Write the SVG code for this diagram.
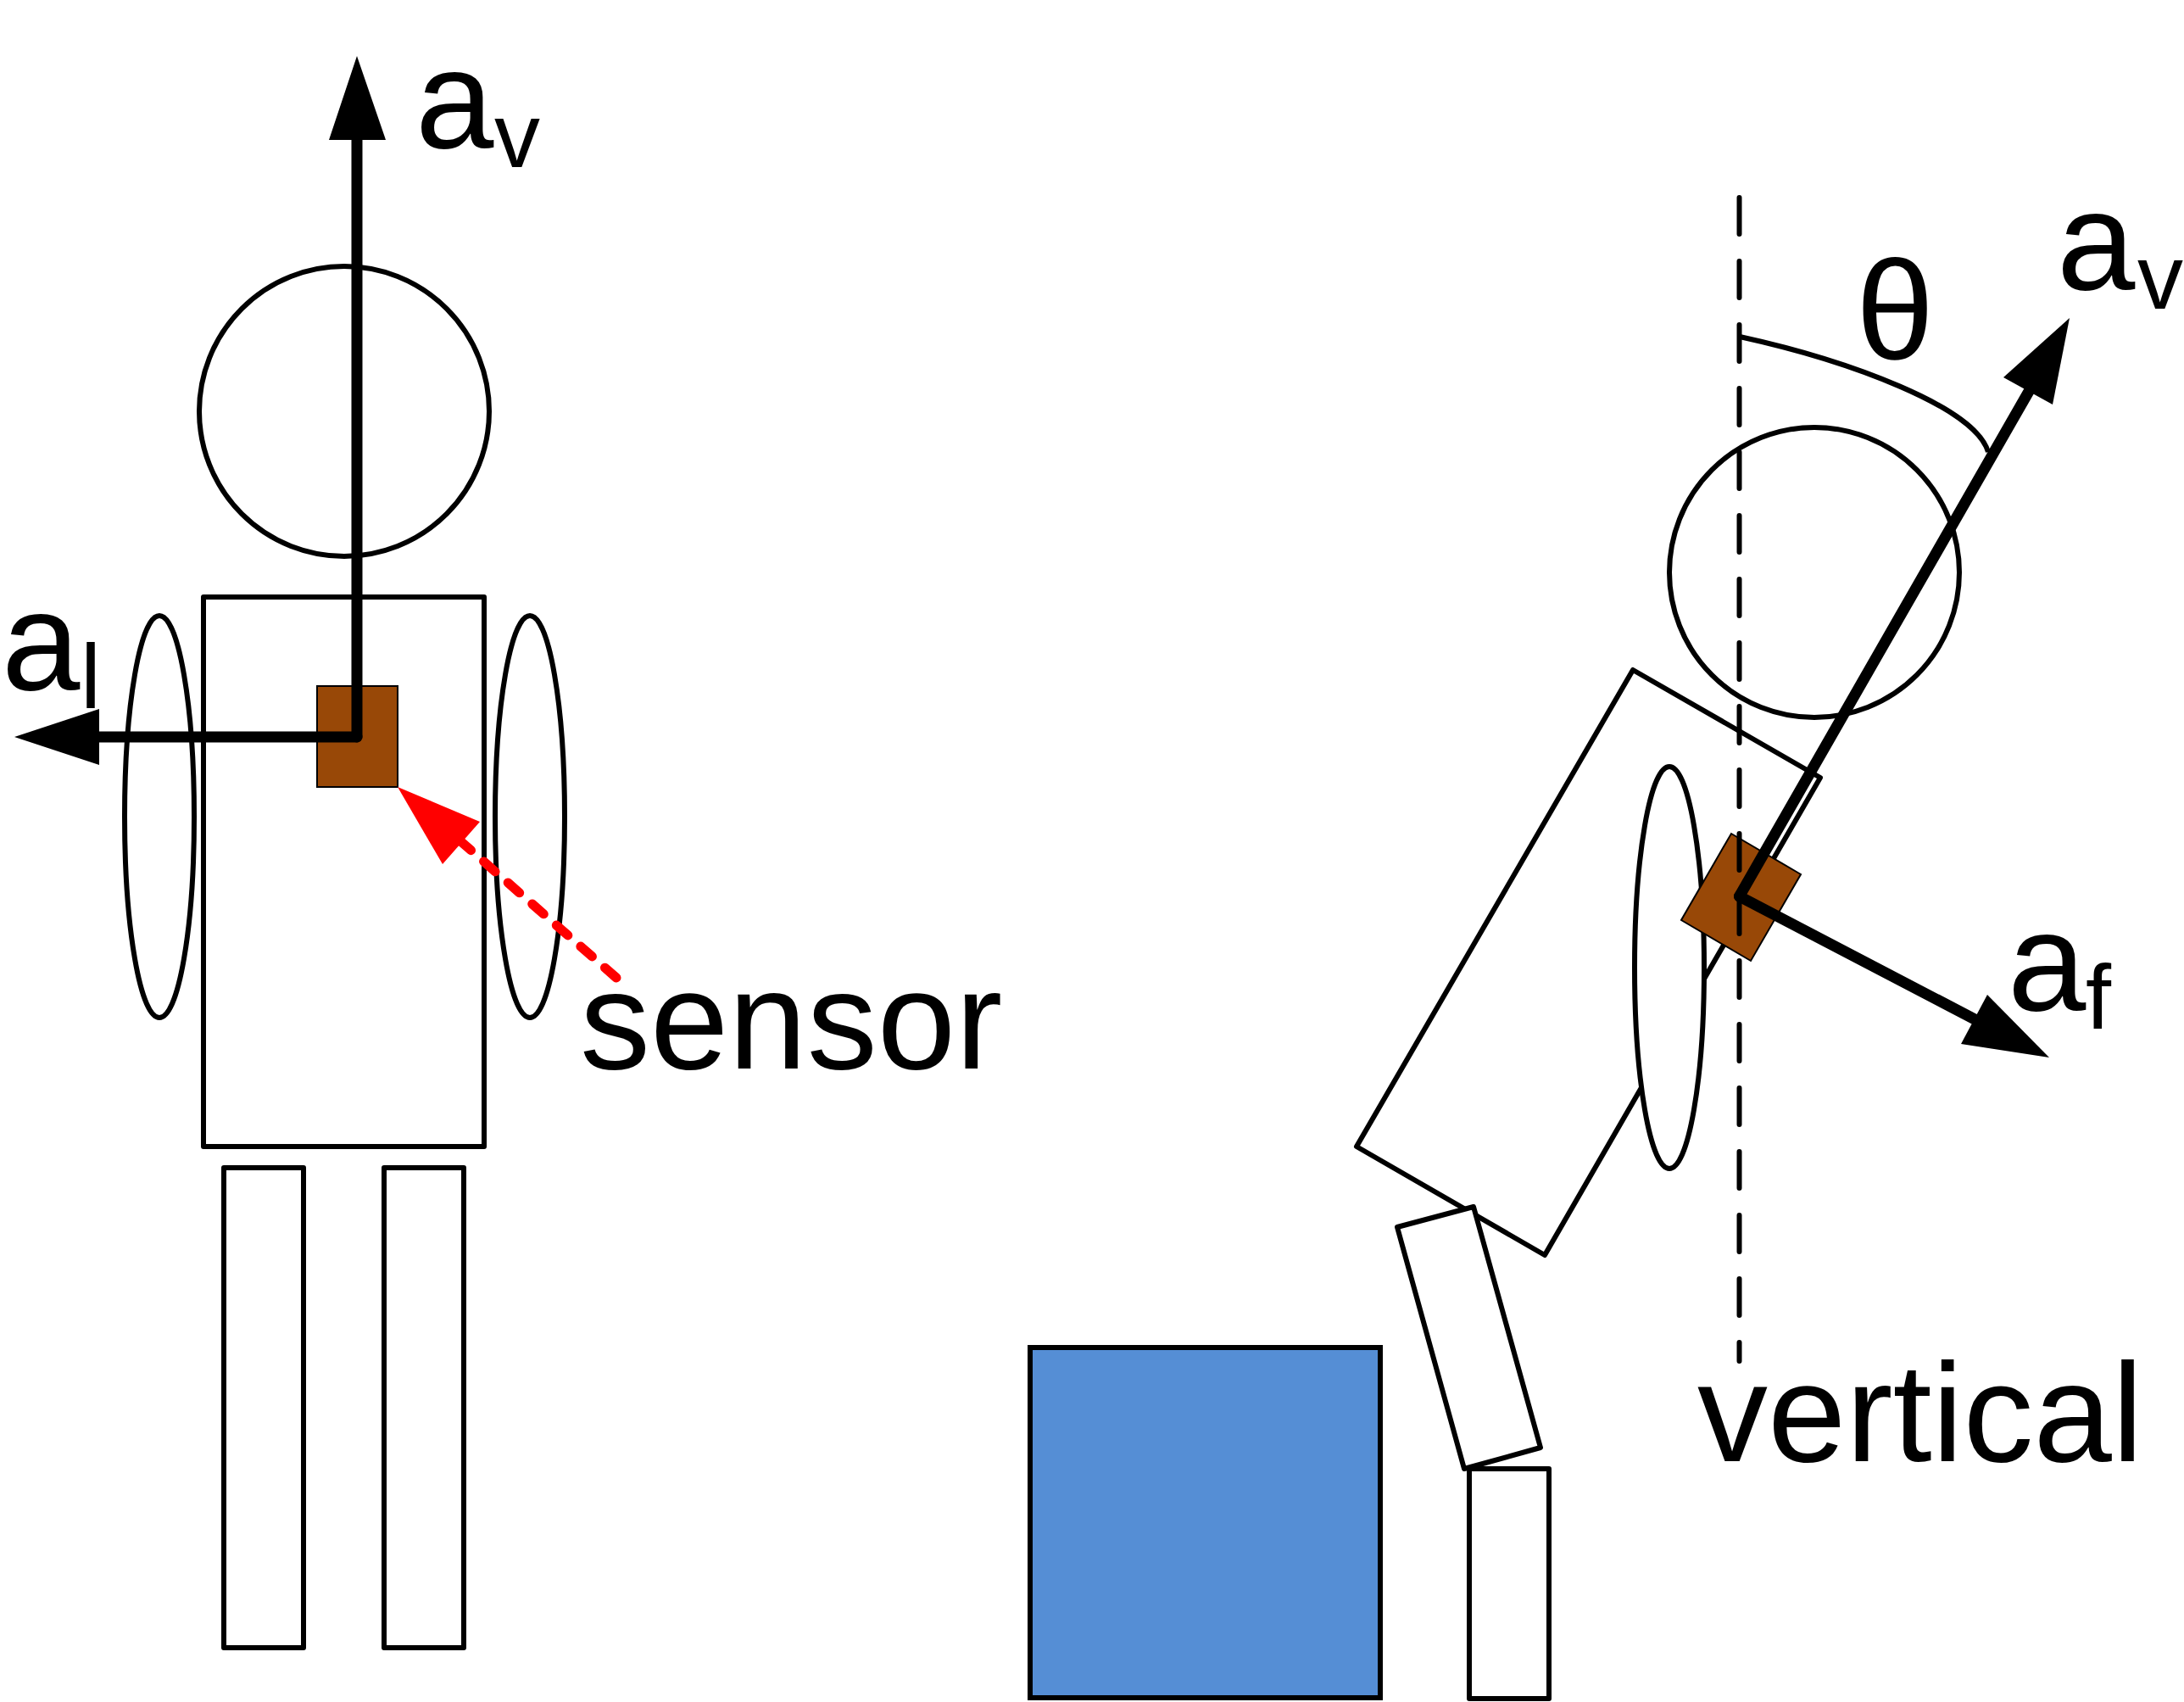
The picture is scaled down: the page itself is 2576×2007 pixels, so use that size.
<svg xmlns="http://www.w3.org/2000/svg" width="2576" height="2007" viewBox="0 0 2576 2007">
<style>
.o{fill:none;stroke:#000;stroke-width:6;stroke-linejoin:round}
.w{fill:#fff;stroke:#000;stroke-width:6;stroke-linejoin:round}
.s{fill:#984807;stroke:#000;stroke-width:2}
.a{fill:none;stroke:#000;stroke-width:13;stroke-linecap:round;stroke-linejoin:round}
.h{fill:#000}
.t{font-family:"Liberation Sans",Arial,sans-serif;font-size:166px;fill:#000}
.u{font-size:108px}
</style>
<rect width="2576" height="2007" fill="#fff"/>
<g id="left-person">
<circle id="left-head" class="o" cx="406" cy="485" r="171"/>
<rect id="left-torso" class="o" x="240" y="704" width="331" height="648"/>
<ellipse id="left-arm-a" class="o" cx="188" cy="963" rx="41" ry="237"/>
<ellipse id="left-arm-b" class="o" cx="625" cy="963" rx="41" ry="237"/>
<rect id="left-leg-a" class="o" x="264" y="1377" width="94" height="566"/>
<rect id="left-leg-b" class="o" x="453" y="1377" width="94" height="566"/>
</g>
<g id="left-sensor"><rect class="s" x="374" y="809" width="95" height="119"/></g>
<g id="seat"><rect x="1215" y="1589" width="413" height="413" fill="#558ed5" stroke="#000" stroke-width="6"/></g>
<g id="right-person">
<polygon id="right-torso" class="w" points="1926,790 2147,917 1822,1480 1600,1352"/>
<circle id="right-head" class="o" cx="2140" cy="675" r="171"/>
<ellipse id="right-arm" class="w" cx="1969" cy="1141" rx="41" ry="237"/>
<polygon id="right-thigh" class="w" points="1648,1447 1738,1423 1817,1707 1727,1732"/>
<rect id="right-shin" class="w" x="1733" y="1732" width="94" height="271"/>
</g>
<g id="right-sensor"><polygon class="s" points="2042,983 2124,1031 2065,1133 1983,1085"/></g>
<g id="connectors">
<path d="M421 869V160" class="a"/><polygon class="h" points="421,66 455,165 388,165"/>
<path d="M421 869H110" class="a"/><polygon class="h" points="17,869 117,836 117,902"/>
<path d="M727 1153L541 990" fill="none" stroke="#f00" stroke-width="11" stroke-linecap="round" stroke-dasharray="18 20"/>
<polygon fill="#f00" points="469,928 566,969 522,1019"/>
<path d="M2051.5 233V1605" fill="none" stroke="#000" stroke-width="6" stroke-linecap="round" stroke-dasharray="43 32"/>
<path d="M2052 397C2180 425 2330 480 2345 533" class="o"/>
<path d="M2051.5 1057L2395 458" class="a"/><polygon class="h" points="2441,375 2421,477 2363,445"/>
<path d="M2051.5 1057L2335 1205" class="a"/><polygon class="h" points="2417,1247 2313,1231 2344,1173"/>
</g>
<g id="labels">
<text class="t" x="490" y="174">a<tspan class="u" x="583" y="197">v</tspan></text>
<text class="t" x="2" y="813">a<tspan class="u" x="95" y="835">l</tspan></text>
<text class="t" x="684" y="1260">sensor</text>
<text class="t" x="2002" y="1723">vertical</text>
<text class="t" x="2426" y="341">a<tspan class="u" x="2521" y="364">v</tspan></text>
<text class="t" x="2189" y="423">θ</text>
<text class="t" x="2368" y="1191">a<tspan class="u" x="2460" y="1213">f</tspan></text>
</g>
</svg>
